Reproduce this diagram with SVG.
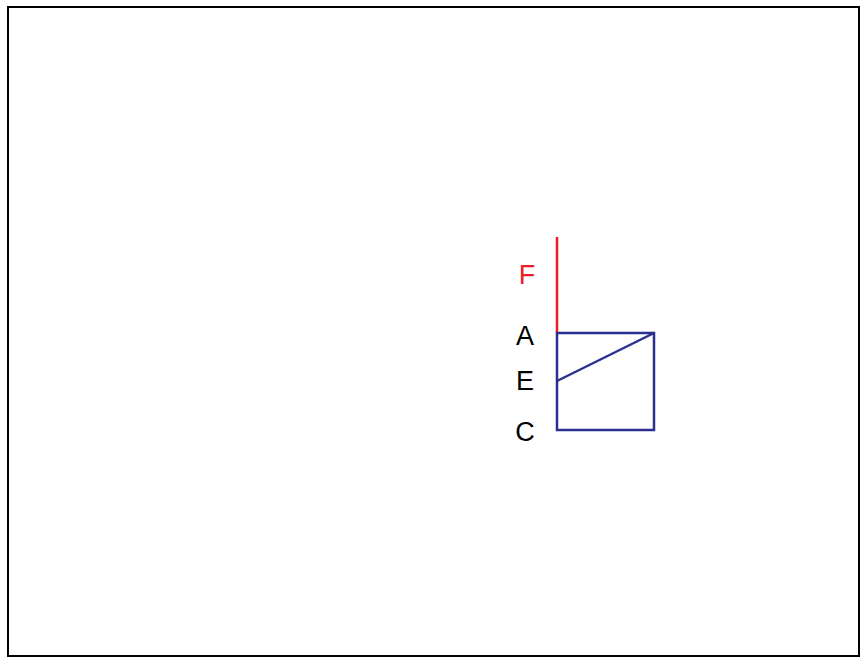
<svg xmlns="http://www.w3.org/2000/svg" width="862" height="657" viewBox="0 0 862 657">
<style>
.lbl{font-family:"Liberation Sans",Arial,sans-serif;font-size:27px;text-anchor:middle}
.blue{stroke:#2b2f8f;stroke-width:2.5;fill:none}
</style>
<rect x="0" y="0" width="862" height="657" fill="#fff"/>
<rect x="8" y="7" width="851" height="649" fill="none" stroke="#000" stroke-width="2"/>
<g id="connectors">
<line x1="557" y1="237" x2="557" y2="333" stroke="#ee1c25" stroke-width="2.5"/>
<rect class="blue" x="557" y="333" width="97" height="97"/>
<line class="blue" x1="557" y1="381" x2="654" y2="333"/>
</g>
<g id="F"><text class="lbl" x="527" y="284" fill="#ee1c25">F</text></g>
<g id="A"><text class="lbl" x="525" y="345">A</text></g>
<g id="E"><text class="lbl" x="525" y="390">E</text></g>
<g id="C"><text class="lbl" x="525" y="441">C</text></g>
</svg>
